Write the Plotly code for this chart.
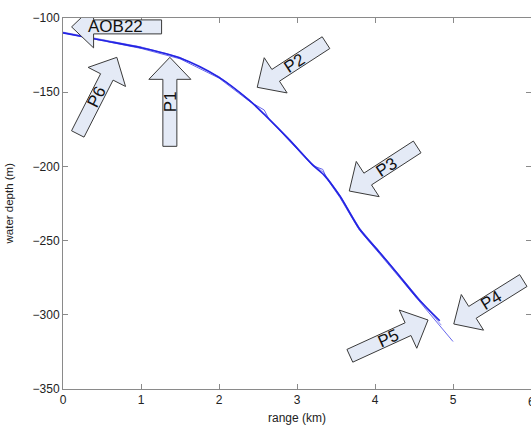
import math
import plotly.graph_objects as go

# Bathymetry transects: range (km) vs water depth (m)
range_a = [0.0, 0.5, 1.0, 1.5, 2.0, 2.4, 2.6, 2.9, 3.2, 3.35, 3.55, 3.8, 4.06, 4.3, 4.55, 4.83]
depth_a = [-110, -115, -120, -127, -140, -156, -166, -182, -199, -206, -220, -242, -258, -273, -289, -304]

range_b = [0.0, 0.5, 1.0, 1.5, 2.0, 2.4, 2.58, 2.64, 2.9, 3.2, 3.33, 3.38, 3.55, 3.8, 4.06, 4.3, 4.55, 4.8, 5.0]
depth_b = [-110, -115.5, -120.5, -127.5, -140.5, -156.5, -162, -168, -182.5, -199.5, -202, -208, -221, -243, -259, -274, -290, -305, -318]

range_c = [0.0, 0.5, 1.0, 1.5, 2.0, 2.4, 2.9, 3.2, 3.34, 3.55, 3.8, 4.06, 4.3, 4.55, 4.85]
depth_c = [-109.5, -114.5, -119.5, -126.5, -139.5, -155.5, -181.5, -198.5, -204, -219.5, -241.5, -257.5, -272.5, -288.5, -307]

# Block-arrow markers: label, tip range (km), tip depth (m), pointing angle (deg), length (px)
arrow_labels = ["AOB22", "P1", "P6", "P2", "P3", "P4", "P5"]
arrow_tip_km = [0.11, 1.37, 0.69, 2.49, 3.67, 5.01, 4.68]
arrow_tip_m = [-106, -126.5, -126.5, -146.7, -216.6, -306.2, -303.5]
arrow_angle = [180, 90, 63, 213, 213, 212, 24.6]
arrow_len = [90, 89, 86, 82, 81, 82, 86]

x_ticks = [0, 1, 2, 3, 4, 5, 6]
y_ticks = [-350, -300, -250, -200, -150, -100]

X_RANGE = [0, 6]
Y_RANGE = [-350, -100]
W, H = 531, 428
ML, MR, MT, MB = 63, 0, 18, 39
PW, PH = W - ML - MR, H - MT - MB
SX = PW / (X_RANGE[1] - X_RANGE[0])
SY = PH / (Y_RANGE[1] - Y_RANGE[0])

HEAD_LEN, HEAD_HW, SHAFT_HW = 22, 21, 7
FILL = "#e4eaf6"
EDGE = "#3a3a3a"
FONT = "Liberation Sans, Arial, Helvetica, sans-serif"
TICK_FONT = dict(family=FONT, size=12, color="#222")

fig = go.Figure()
fig.add_trace(go.Scatter(x=range_c, y=depth_c, mode="lines",
                         line=dict(color="#2828e6", width=1), opacity=0.5,
                         hoverinfo="skip", showlegend=False))
fig.add_trace(go.Scatter(x=range_b, y=depth_b, mode="lines",
                         line=dict(color="#2828e6", width=1), opacity=0.7,
                         hoverinfo="skip", showlegend=False))
fig.add_trace(go.Scatter(x=range_a, y=depth_a, mode="lines",
                         line=dict(color="#2424e4", width=1.7, shape="spline", smoothing=0.8),
                         hoverinfo="skip", showlegend=False))

shapes = []
annotations = []
for lab, tx, ty, ang, L in zip(arrow_labels, arrow_tip_km, arrow_tip_m, arrow_angle, arrow_len):
    a = math.radians(ang)
    d = (math.cos(a), math.sin(a))      # pointing direction (pixels, y up)
    n = (-math.sin(a), math.cos(a))
    local = [(0, 0), (HEAD_LEN, HEAD_HW), (HEAD_LEN, SHAFT_HW), (L, SHAFT_HW),
             (L, -SHAFT_HW), (HEAD_LEN, -SHAFT_HW), (HEAD_LEN, -HEAD_HW)]
    pts = []
    for u, v in local:
        px = -u * d[0] + v * n[0]
        py = -u * d[1] + v * n[1]
        pts.append((tx + px / SX, ty + py / SY))
    path = "M " + " L ".join(f"{x:.5f},{y:.4f}" for x, y in pts) + " Z"
    shapes.append(dict(type="path", path=path, xref="x", yref="y",
                       fillcolor=FILL, line=dict(color=EDGE, width=1), layer="above"))
    cx = tx - 44 * d[0] / SX
    cy = ty - 44 * d[1] / SY
    t_ang = ang if ang <= 90 else ang - 180
    annotations.append(dict(x=cx, y=cy, xref="x", yref="y", text=lab, showarrow=False,
                            textangle=-t_ang, font=dict(family=FONT, size=17, color="#111"),
                            xanchor="center", yanchor="middle"))

annotations.append(dict(x=-55 / PW, y=0.5, xref="paper", yref="paper", text="water depth (m)",
                        showarrow=False, textangle=-90, xanchor="center", yanchor="middle",
                        font=dict(family=FONT, size=11.5, color="#222")))
annotations.append(dict(x=0.5, y=-29 / PH, xref="paper", yref="paper", text="range (km)",
                        showarrow=False, xanchor="center", yanchor="middle",
                        font=dict(family=FONT, size=12, color="#222")))
# last x tick label sits on the right edge of the plot
annotations.append(dict(x=1.0, y=-13 / PH, xref="paper", yref="paper", text=str(x_ticks[-1]),
                        showarrow=False, xanchor="center", yanchor="middle", font=TICK_FONT))

axis_common = dict(showgrid=False, zeroline=False, showline=True, linecolor="#8a8a8a",
                   linewidth=1, mirror="ticks", ticks="inside", ticklen=5, tickcolor="#8a8a8a",
                   tickfont=TICK_FONT, automargin=False)

fig.update_layout(
    width=W, height=H,
    margin=dict(l=ML, r=MR, t=MT, b=MB, pad=0),
    paper_bgcolor="white", plot_bgcolor="white",
    xaxis=dict(range=X_RANGE, tickvals=x_ticks, **axis_common),
    yaxis=dict(range=Y_RANGE, tickvals=y_ticks, **axis_common),
    shapes=shapes, annotations=annotations,
)

fig.write_html("out.html")
